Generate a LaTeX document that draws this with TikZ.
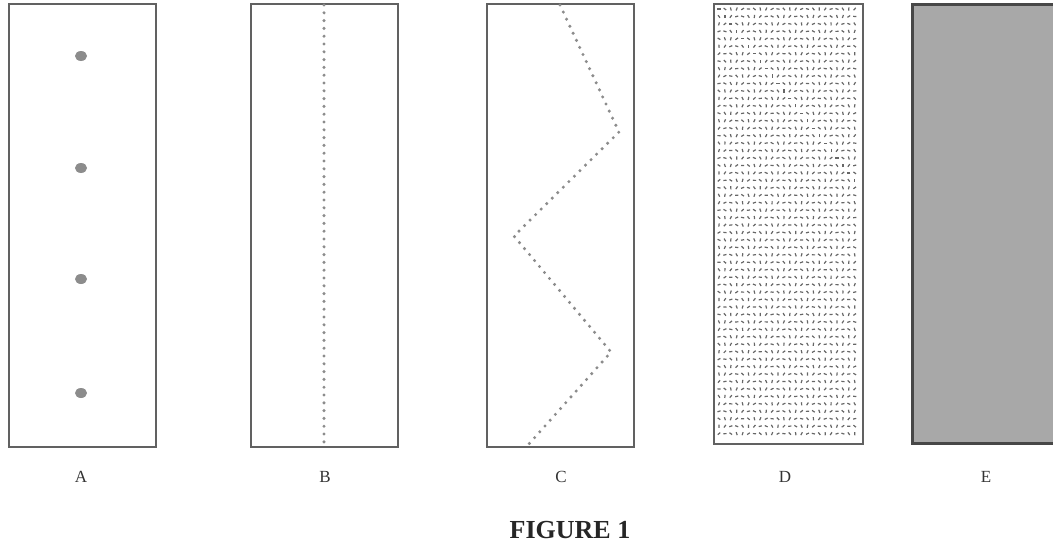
\documentclass[tikz,border=0pt]{standalone}
\usepackage{fontspec}
\setmainfont{Liberation Serif}
\begin{document}
\begin{tikzpicture}[x=1pt,y=-1pt,
  panel/.style={draw=black!62, line width=2.4pt, inner sep=0pt, minimum width=147pt, minimum height=443pt, anchor=north west},
  dotline/.style={draw=black!45, line width=3.4pt, line cap=round, dash pattern=on 0pt off 7.8pt},
  lab/.style={font=\fontsize{17}{19}\selectfont, text=black!80}]
\useasboundingbox (0,0) rectangle (1053,546);
\clip (0,0) rectangle (1053,546);
% panels
\node[panel] (pA) at (8,3) {};
\node[panel] (pB) at (250,3) {};
\node[panel] (pC) at (486,3) {};
\node[panel, minimum width=149pt, minimum height=440pt] (pD) at (713,3) {};
% pattern in D
\foreach \i in {0,...,23}{
  \foreach \j in {0,...,57}{
    \pgfmathsetmacro{\xx}{719+\i*5.9}
    \pgfmathsetmacro{\yy}{9+\j*7.45}
    \pgfmathsetmacro{\ang}{mod(\i*37+\j*53,180)}
    \draw[black!60, line width=1.2pt] (\xx,\yy) ++(\ang:1.6) -- ++(\ang+180:3.2);
  }
}
\node[panel, draw=black!72, line width=3pt, fill=black!34, minimum width=160pt, minimum height=439pt] (pE) at (911,3) {};
% A spots
\fill[black!45] (81,56) ellipse (6 and 5);
\fill[black!45] (81,168) ellipse (6 and 5);
\fill[black!45] (81,279) ellipse (6 and 5);
\fill[black!45] (81,393) ellipse (6 and 5);
% B dotted line
\coordinate (bt) at (324,5);
\coordinate (bb) at (324,445);
\draw[dotline] (bt) -- (bb);
% C zigzag
\coordinate (c0) at (560,5);
\coordinate (c1) at (619,132);
\coordinate (c2) at (514,236);
\coordinate (c3) at (611,352);
\coordinate (c4) at (528,445);
\draw[dotline] (c0) -- (c1) -- (c2) -- (c3) -- (c4);
% labels
\node[lab] (lA) at (81,477) {A};
\node[lab] (lB) at (325,477) {B};
\node[lab] (lC) at (561,477) {C};
\node[lab] (lD) at (785,477) {D};
\node[lab] (lE) at (986,477) {E};
\node[font=\fontsize{26}{28}\selectfont\bfseries, text=black!85] (fig) at (570,530) {FIGURE 1};
\end{tikzpicture}
\end{document}
